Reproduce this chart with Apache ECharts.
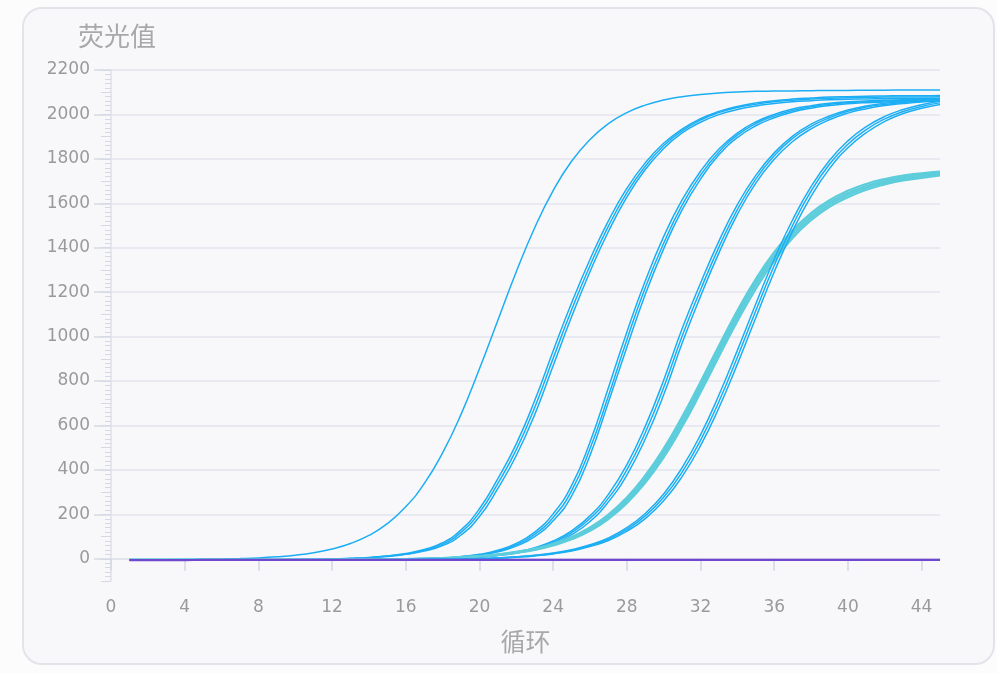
<!DOCTYPE html>
<html>
<head>
<meta charset="utf-8">
<title>荧光曲线</title>
<script src="https://cdn.jsdelivr.net/npm/echarts@6/dist/echarts.min.js"></script>
<style>
html, body { margin: 0; padding: 0; background: #fcfcfd; }
.card {
    position: absolute; left: 22px; top: 7px; width: 973px; height: 658px;
    box-sizing: border-box; border: 2px solid #e3e4ea; border-radius: 20px; background: #f8f8fa;
}
#main { position: absolute; left: 0; top: 0; width: 997px; height: 673px; }
</style>
</head>
<body>
<div class="card"></div>
<div id="main"></div>
<script>
// 循环数 (x)
const cycles = [1,2,3,4,5,6,7,8,9,10,11,12,13,14,15,16,17,18,19,20,21,22,23,24,25,26,27,28,29,30,31,32,33,34,35,36,37,38,39,40,41,42,43,44,45];
// 刻度
const xTicks = [0,4,8,12,16,20,24,28,32,36,40,44];
const yTicks = [0,200,400,600,800,1000,1200,1400,1600,1800,2000,2200];

// 荧光值 —— 各孔
const wellA = [-5,-4,-4,-3,-2,-1,1,4,9,16,27,44,69,105,158,234,338,477,650,855,1074,1292,1490,1657,1789,1887,1959,2008,2042,2065,2080,2090,2097,2101,2104,2105,2106,2107,2108,2108,2109,2109,2110,2110,2110];

const wellB1 = [-5,-5,-5,-5,-5,-5,-5,-4,-4,-3,-2,-1,2,6,13,24,42,72,130,225,361,517,712,935,1151,1347,1521,1667,1782,1870,1934,1981,2013,2036,2052,2062,2069,2074,2078,2080,2082,2083,2084,2084,2085];
const wellB2 = [-5,-5,-5,-5,-5,-5,-5,-5,-4,-4,-3,-2,1,5,12,22,38,65,119,208,339,491,681,902,1120,1319,1497,1647,1767,1859,1926,1975,2008,2031,2046,2057,2064,2069,2073,2075,2077,2078,2079,2079,2080];
const wellB3 = [-5,-5,-5,-5,-5,-5,-5,-5,-5,-4,-4,-3,0,4,10,20,35,59,107,190,317,465,649,869,1089,1292,1473,1628,1752,1847,1917,1965,1999,2022,2038,2049,2057,2062,2066,2068,2070,2071,2072,2072,2073];

const wellC1 = [-5,-5,-5,-5,-5,-5,-5,-5,-5,-5,-5,-5,-5,-4,-3,-2,0,3,10,20,38,69,120,202,329,525,770,1020,1250,1450,1615,1744,1844,1916,1966,2000,2024,2039,2050,2057,2061,2064,2066,2067,2068];
const wellC2 = [-5,-5,-5,-5,-5,-5,-5,-5,-5,-5,-5,-5,-5,-4,-3,-2,0,2,9,18,34,63,110,186,306,495,733,985,1220,1420,1592,1727,1831,1907,1959,1993,2018,2034,2046,2053,2057,2060,2062,2063,2064];
const wellC3 = [-5,-5,-5,-5,-5,-5,-5,-5,-5,-5,-5,-5,-5,-4,-3,-2,-1,1,7,16,31,57,100,171,282,465,705,952,1190,1395,1570,1709,1818,1896,1949,1985,2011,2028,2040,2048,2053,2056,2058,2059,2060];

const wellD1 = [-5,-5,-5,-5,-5,-5,-5,-5,-5,-5,-5,-5,-5,-5,-4,-3,-1,1,4,10,18,31,50,80,126,193,290,423,596,804,1035,1240,1430,1594,1726,1827,1902,1956,1993,2020,2038,2050,2058,2064,2067];
const wellD2 = [-5,-5,-5,-5,-5,-5,-5,-5,-5,-5,-5,-5,-5,-5,-4,-3,-1,1,3,9,16,29,46,74,118,181,273,400,567,771,1002,1210,1403,1572,1709,1814,1892,1946,1985,2014,2033,2045,2054,2060,2064];
const wellD3 = [-5,-5,-5,-5,-5,-5,-5,-5,-5,-5,-5,-5,-5,-5,-4,-3,-2,0,3,8,15,26,43,69,109,168,256,377,539,738,970,1181,1377,1550,1691,1798,1878,1935,1976,2006,2026,2040,2049,2056,2060];

const wellE1 = [-5,-5,-5,-5,-5,-5,-5,-5,-5,-5,-5,-4,-4,-3,-2,-1,1,3,7,12,20,31,46,68,99,141,199,276,375,496,639,796,959,1116,1259,1380,1479,1556,1614,1656,1687,1709,1725,1735,1743];
const wellE2 = [-5,-5,-5,-5,-5,-5,-5,-5,-5,-5,-5,-4,-4,-3,-2,-1,1,3,7,11,19,30,44,65,95,136,192,267,364,483,624,780,943,1101,1246,1367,1467,1545,1604,1646,1678,1701,1718,1728,1737];
const wellE3 = [-5,-5,-5,-5,-5,-5,-5,-5,-5,-5,-5,-4,-4,-3,-3,-2,0,2,6,11,18,28,42,63,92,131,186,258,353,470,609,764,927,1086,1231,1354,1455,1534,1594,1637,1670,1693,1710,1721,1731];
const wellE4 = [-5,-5,-5,-5,-5,-5,-5,-5,-5,-5,-5,-5,-4,-4,-3,-2,0,2,6,10,17,27,40,60,88,126,179,250,342,456,594,748,911,1069,1215,1341,1444,1524,1584,1627,1661,1685,1703,1714,1725];

const wellF1 = [-5,-5,-5,-5,-5,-5,-5,-5,-5,-5,-5,-5,-5,-4,-4,-4,-3,-2,-1,1,4,9,16,26,41,63,94,140,204,292,410,558,737,938,1147,1348,1526,1675,1793,1881,1945,1991,2022,2044,2059];
const wellF2 = [-5,-5,-5,-5,-5,-5,-5,-5,-5,-5,-5,-5,-5,-4,-4,-4,-3,-2,-2,1,3,8,15,24,38,59,88,132,193,277,390,533,708,907,1116,1320,1501,1655,1776,1866,1932,1980,2013,2036,2052];
const wellF3 = [-5,-5,-5,-5,-5,-5,-5,-5,-5,-5,-5,-5,-5,-5,-4,-4,-3,-3,-2,0,3,7,13,22,35,55,82,124,181,261,370,509,680,876,1085,1291,1475,1631,1756,1850,1918,1969,2004,2028,2045];

// 阴性对照
const wellNTC = [-6,-6,-6,-6,-5,-5,-5,-5,-5,-5,-5,-5,-5,-5,-5,-5,-5,-5,-5,-5,-5,-5,-5,-5,-5,-5,-5,-5,-5,-5,-5,-5,-5,-5,-5,-5,-5,-5,-5,-5,-5,-5,-5,-5,-5];

const blueWells = [wellA, wellB1, wellB2, wellB3, wellC1, wellC2, wellC3, wellD1, wellD2, wellD3];
const tealWells = [wellE1, wellE2, wellE3, wellE4];
const lateWells = [wellF1, wellF2, wellF3];

const axisGray = '#dfe1ea';
const labelGray = '#9a9a9a';

const mkLine = (arr, color, width) => ({
    type: 'line',
    data: cycles.map((c, i) => [c, arr[i]]),
    smooth: true,
    showSymbol: false,
    silent: true,
    lineStyle: { color: color, width: width },
    z: 2
});

const series = [];
blueWells.forEach(w => series.push(mkLine(w, '#1caef4', 1.5)));
tealWells.forEach(w => series.push(mkLine(w, '#5dcddb', 2.2)));
lateWells.forEach(w => series.push(mkLine(w, '#1caef4', 1.5)));
series.push(mkLine(wellNTC, '#7048cf', 2.2));

const option = {
    backgroundColor: 'transparent',
    animation: false,
    title: {
        text: '荧光值',
        left: 73,
        top: 18,
        textStyle: { fontSize: 26, fontWeight: 'normal', color: '#a8a8a8', fontFamily: 'Noto Sans CJK SC' }
    },
    grid: { left: 111, right: 57, top: 70, bottom: 92 },
    xAxis: {
        type: 'value',
        min: 0,
        max: 45,
        interval: 4,
        name: '循环',
        nameLocation: 'middle',
        nameGap: 48,
        nameTextStyle: { fontSize: 25, color: '#a8a8a8', fontFamily: 'Noto Sans CJK SC' },
        axisLine: { show: true, lineStyle: { color: axisGray, width: 1.5 } },
        axisTick: { show: true, length: 12, customValues: xTicks, lineStyle: { color: '#d3d7e2', width: 1.5 } },
        axisLabel: { margin: 18, customValues: xTicks, fontSize: 17, color: labelGray, fontFamily: 'DejaVu Sans', formatter: v => String(v) },
        splitLine: { show: false }
    },
    yAxis: [{
        type: 'value',
        min: -100,
        max: 2200,
        interval: 100,
        axisLine: { show: true, lineStyle: { color: axisGray, width: 1.5 } },
        axisTick: { show: true, length: 17, customValues: yTicks, lineStyle: { color: '#d6d9e4', width: 1.5 } },
        minorTick: { show: true, splitNumber: 5, length: 6, lineStyle: { color: '#d6d9e4', width: 1 } },
        axisLabel: { margin: 21, customValues: yTicks, fontSize: 17, color: labelGray, fontFamily: 'DejaVu Sans', formatter: v => String(v) },
        splitLine: { show: true, lineStyle: { color: '#e5e6ee', width: 1.5 } }
    }, {
        // 中间刻度（每 100）
        type: 'value',
        min: -100,
        max: 2200,
        interval: 100,
        position: 'left',
        axisLine: { show: false },
        axisTick: { show: true, length: 10, lineStyle: { color: '#d6d9e4', width: 1 } },
        axisLabel: { show: false },
        splitLine: { show: false }
    }],
    series: series
};

const chart = echarts.init(document.getElementById('main'), null, { renderer: 'canvas' });
chart.setOption(option);
</script>
</body>
</html>
